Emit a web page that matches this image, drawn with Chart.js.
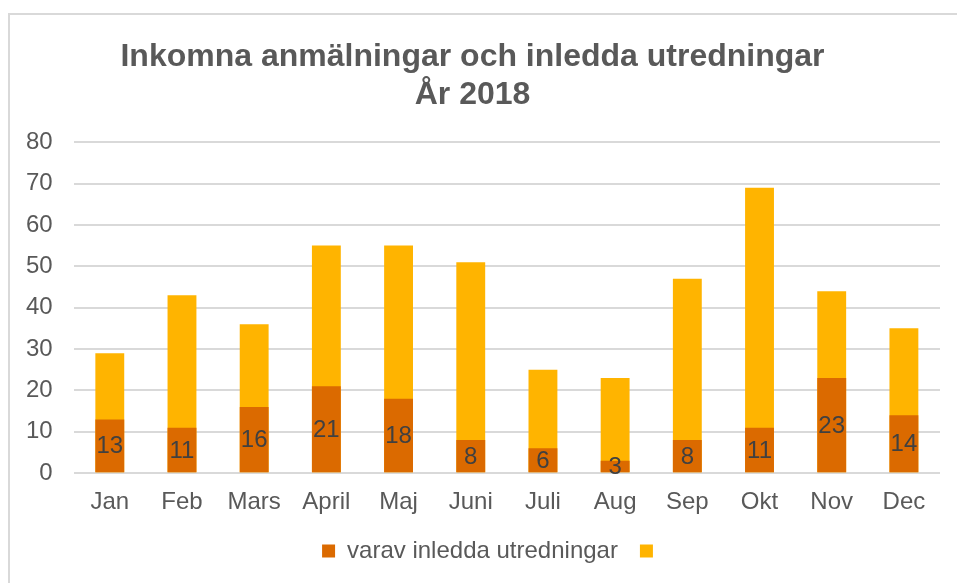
<!DOCTYPE html>
<html>
<head>
<meta charset="utf-8">
<script src="https://cdn.jsdelivr.net/npm/chart.js@4/dist/chart.umd.min.js"></script>
<style>
  html, body { margin: 0; padding: 0; background: #fff; }
  body { width: 957px; height: 583px; position: relative; overflow: hidden; }
  #frame { position: absolute; left: 8px; top: 13px; width: 1000px; height: 1000px;
           border-left: 2px solid #d9d9d9; border-top: 2px solid #d9d9d9; box-sizing: border-box; }
  #wrap { position: absolute; left: 0; top: 0; width: 957px; height: 583px; }
</style>
</head>
<body>
<div id="frame"></div>
<div id="wrap"><canvas id="c" width="957" height="583"></canvas></div>
<script>
const categories = ['Jan', 'Feb', 'Mars', 'April', 'Maj', 'Juni', 'Juli', 'Aug', 'Sep', 'Okt', 'Nov', 'Dec'];
const inledda = [13, 11, 16, 21, 18, 8, 6, 3, 8, 11, 23, 14];
const inkomna = [29, 43, 36, 55, 55, 51, 25, 23, 47, 69, 44, 35];
const yTicks = [0, 10, 20, 30, 40, 50, 60, 70, 80];
const titleLines = ['Inkomna anmälningar och inledda utredningar', 'År 2018'];
const seriesNames = ['varav inledda utredningar', ''];

const FONT = "'Liberation Sans', Arial, sans-serif";

const labelPlugin = {
  id: 'barLabels',
  afterDatasetsDraw(chart) {
    const meta = chart.getDatasetMeta(0);
    const ctx = chart.ctx;
    ctx.save();
    ctx.font = '24px ' + FONT;
    ctx.fillStyle = '#404040';
    ctx.textAlign = 'center';
    ctx.textBaseline = 'middle';
    meta.data.forEach((bar, i) => {
      const cy = (bar.y + bar.base) / 2;
      ctx.fillText(String(inledda[i]), bar.x, cy + 1);
    });
    ctx.restore();
  }
};

const legendShiftPlugin = {
  id: 'legendShift',
  afterLayout(chart) {
    const lg = chart.legend;
    if (lg) { lg.left += 21; lg.right += 21; }
  }
};

new Chart(document.getElementById('c'), {
  type: 'bar',
  data: {
    labels: categories,
    datasets: [
      { label: seriesNames[0], data: inledda, backgroundColor: '#DB6A00', grouped: false,
        barPercentage: 0.4, categoryPercentage: 1.0 },
      { label: seriesNames[1], data: inkomna, backgroundColor: '#FFB400', grouped: false,
        barPercentage: 0.4, categoryPercentage: 1.0 }
    ]
  },
  options: {
    responsive: false,
    animation: false,
    devicePixelRatio: 1,
    layout: { padding: { left: 5, right: 17, top: 20, bottom: 10 } },
    plugins: {
      title: {
        display: true,
        text: titleLines,
        color: '#595959',
        font: { family: FONT, size: 32, weight: 'bold', lineHeight: 1.19 },
        padding: { top: 18, bottom: 28 }
      },
      legend: {
        position: 'bottom',
        labels: {
          color: '#595959',
          font: { family: FONT, size: 24 },
          boxWidth: 13,
          boxHeight: 13,
          padding: 22
        }
      },
      tooltip: { enabled: false }
    },
    scales: {
      x: {
        grid: { display: false, drawTicks: false },
        border: { display: false },
        ticks: { color: '#595959', font: { family: FONT, size: 24 }, padding: 15 },
        afterFit(axis) { axis.height -= 15; }
      },
      y: {
        min: 0, max: 80,
        afterBuildTicks(axis) { axis.ticks = yTicks.map(v => ({ value: v })); },
        grid: { color: '#d9d9d9', lineWidth: 2, drawTicks: false },
        border: { display: false },
        ticks: { color: '#595959', font: { family: FONT, size: 24 }, padding: 21 }
      }
    }
  },
  plugins: [labelPlugin, legendShiftPlugin]
});
</script>
</body>
</html>
